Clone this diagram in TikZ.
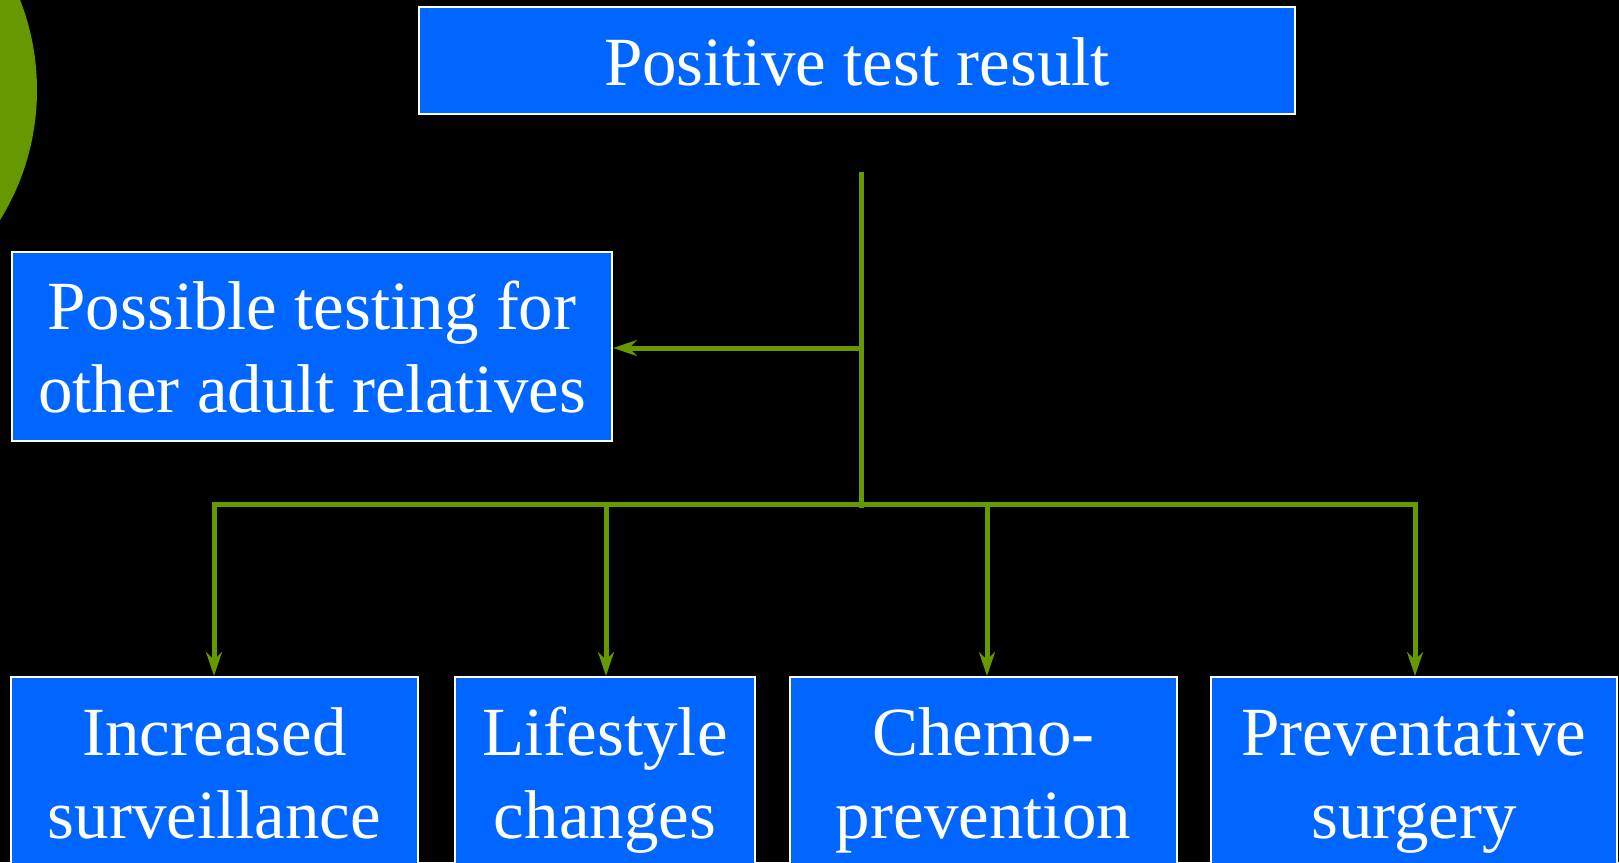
\documentclass[tikz,border=0pt]{standalone}
\usepackage{fontspec}
\setmainfont{Liberation Serif}
\usetikzlibrary{arrows.meta}
\definecolor{boxblue}{RGB}{0,102,255}
\definecolor{leafgreen}{RGB}{102,153,0}
\tikzset{
  stepbox/.style={draw=white, line width=2pt, fill=boxblue, text=white,
    align=center, inner sep=0pt, anchor=north,
    font=\fontsize{69}{83}\selectfont},
  link/.style={leafgreen, line width=5pt},
  linktip/.style={link, -{Stealth[length=24pt,width=16pt,inset=8pt]}}
}
\begin{document}
\begin{tikzpicture}[x=1pt,y=-1pt]
        \fill[black] (0,0) rectangle (1619,862);
        \useasboundingbox (0,0) rectangle (1619,862);
        \clip (0,0) rectangle (1619,862);
        \fill[leafgreen] (-195,90) ellipse (232pt and 240pt);

        \node[stepbox, minimum width=876pt, text height=78pt, text depth=29pt] (positive) at (857,6) {Positive test result};
        \node[stepbox, minimum width=600pt, text height=160pt, text depth=29pt] (relatives) at (312,251) {Possible testing for\\other adult relatives};
        \node[stepbox, minimum width=407pt, text height=161pt, text depth=47pt] (surveillance) at (214.5,676) {Increased\\surveillance};
        \node[stepbox, minimum width=300pt, text height=161pt, text depth=47pt] (lifestyle) at (605,676) {Lifestyle\\changes};
        \node[stepbox, minimum width=387pt, text height=161pt, text depth=47pt] (chemo) at (983.5,676) {Chemo-\\prevention};
        \node[stepbox, minimum width=406pt, text height=161pt, text depth=47pt] (surgery) at (1414,676) {Preventative\\surgery};

        \coordinate (trunk) at (861,172);
        \coordinate (branch) at (861,348);
        \coordinate (fork) at (861,508);
        \coordinate (d1) at (214,504);
        \coordinate (d2) at (606,504);
        \coordinate (d3) at (987,504);
        \coordinate (d4) at (1415,504);

        \draw[link] (trunk) -- (fork);
        \draw[linktip] (branch) -- (branch -| relatives.east);
        \draw[link, {Stealth[length=24pt,width=16pt,inset=8pt]}-{Stealth[length=24pt,width=16pt,inset=8pt]}]
            (d1 |- surveillance.north) -- (d1) -- (d4) -- (d4 |- surgery.north);
        \draw[linktip] (d2) -- (d2 |- lifestyle.north);
        \draw[linktip] (d3) -- (d3 |- chemo.north);
\end{tikzpicture}
\end{document}
